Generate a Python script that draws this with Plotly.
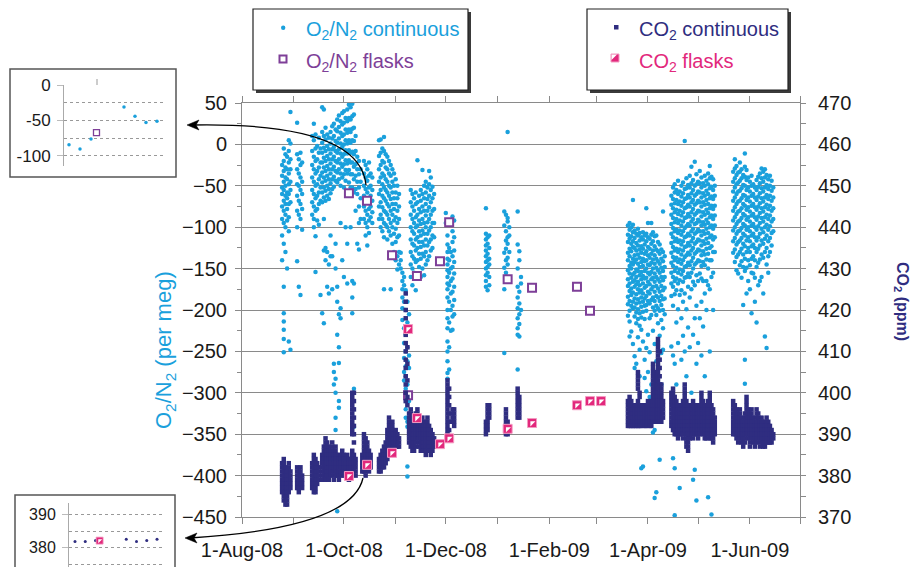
import pandas as pd
import plotly.graph_objects as go

W, H = 912, 567
START = pd.Timestamp("2008-08-01")

# ---------------- data ----------------
label_ticks = ["2008-08-01", "2008-10-01", "2008-12-01", "2009-02-01", "2009-04-01", "2009-06-01"]
label_text = ["1-Aug-08", "1-Oct-08", "1-Dec-08", "1-Feb-09", "1-Apr-09", "1-Jun-09"]
month_ticks = ["2008-08-01", "2008-09-01", "2008-10-01", "2008-11-01", "2008-12-01",
               "2009-01-01", "2009-02-01", "2009-03-01", "2009-04-01", "2009-05-01",
               "2009-06-01", "2009-07-01"]

# days after 1-Aug-2008
o2_flask_day = [64, 74.8, 89.8, 99.4, 104.7, 118.5, 124, 159, 173.6, 200.5, 208.3]
o2_flask_val = [-59, -68, -134, -303, -159, -141, -94, -163, -173, -172, -201]
co2_flask_day = [64, 74.8, 89.8, 99.4, 104.7, 118.5, 124, 159, 173.6, 200.5, 208.3, 214.9]
co2_flask_val = [379.9, 382.6, 385.5, 415.4, 393.9, 387.6, 389.0, 391.3, 392.7, 397.0, 398.0, 398.0]

# O2/N2 continuous (per meg): "day:values"
o2_aug_oct = [
    "24:-25,-38,-52,-60,-75,-90,-110,-140",
    "25:-5,-20,-32,-45,-55,-68,-80,-95,-120,-172,-204,-214,-224,-235,-251",
    "26:-12,-28,-40,-50,-62,-72,-85,-100,-130",
    "27:-15,-30,-42,-58,-65,-78,-92,-150",
    "28:5,-8,-22,-35,-48,-60,-72,-88,-105,-238",
    "29:39,1,-18,-30,-45,-55,-70,-248",
    "33:26,-12,-30,-48,-62,-80,-100,-141",
    "34:-18,-35,-50,-68,-85,-172",
    "35:-10,-25,-40,-55,-72,-90,-182",
    "36:-22,-45,-60,-78,-103",
    "42:10,-8,-25,-40,-55,-70,-85",
    "43:25,5,-15,-30,-45,-60,-75,-90,-100",
    "44:12,-5,-20,-35,-50,-65,-80,-111,-154",
    "45:-2,-18,-32,-48,-62,-78,-92",
    "46:8,-10,-28,-42,-58,-72,-97",
    "47:-5,-22,-38,-52,-68,-182",
    "48:45,15,2,-10,-22,-34,-46,-58,-70,-204",
    "49:42,10,-4,-16,-28,-40,-52,-64,-90,-128,-216",
    "50:20,6,-8,-20,-32,-44,-56,-68,-125,-140",
    "51:12,-2,-14,-26,-38,-50,-62,-130,-172",
    "52:8,-6,-18,-30,-42,-54,-66,-145,-180",
    "53:15,1,-11,-23,-35,-47,-59,-110,-135",
    "54:22,7,-6,-18,-30,-42,-54,-135,-175",
    "55:25,10,-3,-15,-27,-39,-51,-265,-275,-290",
    "56:18,4,-8,-20,-32,-44,-120,-150,-283,-300,-330,-345",
    "57:30,16,2,-10,-22,-34,-46,-172,-190,-230,-443",
    "58:35,21,7,-6,-18,-30,-42,-205,-245,-264,-310,-318",
    "59:28,14,1,-11,-23,-35,-50,-95,-198,-210",
    "60:38,24,10,-3,-15,-27,-40,-140",
    "61:40,26,12,0,-12,-24,-36,-52,-160",
    "62:32,18,5,-7,-19,-31,-44,-100",
    "63:42,28,14,1,-11,-23,-35,-120,-168",
    "64:48,32,18,5,-7,-19,-31,-46",
    "65:45,30,15,2,-10,-22,-36,-52,-100",
    "66:49,34,19,5,-9,-22,-36,-52,-165,-185,-204",
    "67:36,20,4,-12,-27,-42,-58,-168,-295,-341",
    "68:10,-8,-24,-38,-54,-80",
    "69:-15,-30,-45,-60,-120",
    "70:-20,-36,-52,-75,-95,-127",
    "71:-30,-45,-65,-90",
    "73:-20,-35,-50,-62,-75,-90",
    "74:-25,-40,-54,-67,-80,-95,-110",
    "75:-30,-44,-58,-70,-85,-100,-122",
    "76:-22,-38,-52,-65,-78,-92,-107",
    "77:-35,-50,-62,-75,-88",
    "78:-40,-55,-68,-82,-95",
    "82:5,-14,-30,-45,-60,-75,-90",
    "83:6,-10,-25,-40,-55,-70,-85,-100",
    "84:-5,-20,-35,-48,-62,-76,-90,-105",
    "85:9,-8,-22,-38,-52,-65,-80,-95,-112,-175",
    "86:-12,-28,-42,-55,-68,-82,-97",
    "87:-15,-30,-45,-58,-72,-85,-100,-115",
    "88:-20,-35,-50,-62,-75,-90,-105",
    "89:-25,-38,-52,-66,-80,-95,-110,-175",
    "90:-30,-45,-58,-72,-85,-100,-120",
    "91:-35,-50,-65,-78,-92,-108,-130",
    "92:-42,-58,-72,-88,-102,-118,-140",
    "93:-50,-65,-80,-95,-112,-135,-151",
    "94:-60,-75,-90,-110,-130,-145",
    "95:-131,-140,-150",
    "96:-155,-165,-175,-185,-198,-212",
    "97:-160,-170,-190,-222,-240,-258,-275,-285",
    "98:-176,-200,-230,-250,-268,-280,-295,-305,-320,-330",
    "99:-190,-215,-245,-262,-290,-300,-335,-341,-389,-401",
    "100:-205,-225,-255,-270,-310",
]
o2_nov_dec = [
    "101:-55,-70,-85,-100,-115,-130,-145,-160",
    "102:-60,-75,-90,-105,-120,-135,-150,-170",
    "103:-65,-80,-95,-108,-122,-138,-155",
    "104:-58,-72,-88,-100,-115,-128,-142,-176",
    "105:-19,-70,-85,-98,-112,-125,-140,-158",
    "106:-62,-78,-92,-105,-118,-132,-148",
    "107:-55,-68,-82,-96,-110,-124,-138,-160",
    "108:-31,-60,-75,-90,-104,-118,-132,-150",
    "109:-50,-65,-80,-95,-108,-122,-135,-158",
    "110:-45,-58,-72,-86,-100,-115,-130,-145",
    "111:-52,-66,-80,-94,-108,-122,-140",
    "112:-32,-48,-62,-76,-90,-104,-118,-135",
    "113:-40,-55,-70,-85,-100,-115,-128",
    "114:-51,-65,-80,-95,-110,-125",
    "115:-60,-78,-95,-112",
    "122:-83,-95",
    "123:-110,-121,-130,-138,-145,-152,-160,-168,-175,-185,-200,-210,-222,-238,-250,-262,-276,-283",
    "124:-125,-140,-155,-170,-190,-215,-245,-272",
    "125:-130,-150,-165,-180,-200,-225",
    "126:-87,-105,-118,-135,-148,-162,-178,-195,-208,-224",
    "127:-92,-112,-128,-142,-156,-172,-188,-205",
]
o2_winter = [
    "146:-77,-108,-115,-122,-128,-135,-142,-150,-158,-165,-172",
    "147:-112,-120,-132,-140,-148,-155,-176",
    "148:-110,-125,-138,-145,-160,-170",
    "157:-81,-98,-131,-149,-175,-252",
    "158:-85,-105,-116,-126,-140,-155",
    "159:15,-89,-93,-112,-120,-137,-145,-160",
    "160:-100,-110,-130",
    "165:-81,-121,-150,-172,-185,-198,-210,-222,-230,-272",
    "166:-129,-140,-178,-192,-205,-217,-232",
    "167:-160,-168,-200",
]
o2_spring = [
    "231:-98,-109,-118,-131,-140,-152,-163,-171,-184,-193,-207",
    "232:-95,-103,-114,-126,-135,-147,-156,-168,-177,-189,-201,-214,-232",
    "233:-100,-111,-120,-129,-143,-150,-161,-174,-182,-195,-226",
    "234:-67,-97,-106,-117,-124,-138,-145,-157,-166,-179,-190,-198,-241",
    "235:-104,-113,-125,-134,-142,-155,-164,-172,-186,-197,-208,-256,-270",
    "236:-108,-119,-128,-139,-151,-160,-169,-181,-192,-203,-216,-265",
    "237:-102,-110,-122,-133,-144,-153,-166,-175,-187,-199,-211,-233",
    "238:-107,-116,-127,-137,-148,-158,-170,-179,-191,-204,-219,-248,-280",
    "239:-112,-123,-131,-142,-154,-163,-176,-185,-196,-209,-224,-391",
    "240:-106,-115,-126,-138,-147,-159,-168,-180,-190,-202,-238,-389",
    "241:-110,-121,-132,-141,-153,-162,-173,-186,-195,-211,-260,-282",
    "242:-77,-108,-117,-129,-140,-150,-161,-171,-183,-194,-201,-246,-298",
    "243:-95,-112,-124,-134,-145,-155,-166,-178,-189,-230,-275",
    "244:-114,-126,-137,-146,-157,-169,-180,-192,-210,-251,-305",
    "245:-95,-109,-120,-132,-143,-154,-163,-175,-188,-206,-290,-330",
    "246:-106,-117,-128,-139,-150,-161,-172,-185,-197,-225,-348",
    "247:-111,-123,-134,-144,-156,-166,-178,-189,-201,-241,-345,-427",
    "248:-110,-127,-138,-149,-160,-171,-183,-195,-206,-262,-420",
    "249:-118,-129,-141,-152,-163,-174,-185,-198,-216,-271,-315",
    "250:-121,-132,-144,-155,-166,-178,-189,-201,-231,-381",
    "251:-127,-138,-149,-160,-171,-183,-194,-212,-252,-290",
    "252:-81,-130,-141,-153,-164,-176,-187,-200,-222,-248",
    "253:-135,-148,-160,-173,-186,-205",
    "257:-62,-73,-85,-96,-108,-119,-131,-143,-155,-168,-183,-244",
    "258:-52,-66,-77,-89,-101,-112,-124,-136,-147,-160,-172,-195,-255,-379",
    "259:-48,-58,-71,-82,-94,-105,-117,-128,-140,-153,-165,-181,-265,-391,-448",
    "260:-55,-67,-79,-90,-103,-114,-126,-137,-149,-162,-176,-215,-290",
    "261:-44,-60,-72,-84,-95,-107,-118,-130,-142,-155,-168,-199,-240",
    "262:-57,-69,-80,-92,-104,-116,-127,-139,-151,-164,-182,-415",
    "263:-50,-63,-74,-86,-98,-109,-121,-133,-144,-157,-176,-210,-260",
    "264:-46,-59,-70,-82,-93,-105,-117,-128,-140,-153,-166,-190,-231",
    "265:4,-54,-66,-77,-89,-101,-112,-124,-136,-148,-161,-180,-250",
    "266:-41,-53,-65,-76,-88,-99,-111,-123,-134,-147,-160,-199,-280",
    "267:-49,-61,-73,-84,-96,-108,-119,-131,-143,-156,-172,-221",
    "268:-38,-52,-64,-75,-87,-98,-110,-122,-133,-146,-160,-185,-245",
    "269:-27,-47,-59,-70,-82,-93,-105,-117,-128,-141,-155,-175,-300",
    "270:-43,-55,-67,-78,-90,-102,-113,-125,-137,-150,-166,-230,-405",
    "271:-21,-50,-62,-73,-85,-96,-108,-120,-132,-145,-170,-210,-393",
    "272:-36,-48,-60,-71,-83,-95,-106,-118,-130,-143,-158,-195,-265,-430",
    "273:-45,-57,-68,-80,-91,-103,-115,-127,-140,-165,-240",
    "274:-32,-47,-58,-70,-81,-93,-105,-116,-128,-141,-156,-210",
    "275:-40,-52,-64,-75,-87,-98,-110,-122,-134,-147,-162,-190,-255",
    "276:-47,-59,-70,-82,-94,-105,-117,-129,-142,-165,-220",
    "277:-38,-50,-62,-73,-85,-97,-108,-120,-133,-146,-180,-280",
    "278:-44,-56,-67,-79,-91,-102,-114,-126,-139,-165,-200",
    "279:-35,-48,-60,-72,-83,-95,-107,-119,-132,-150,-170,-426",
    "280:-26,-41,-53,-65,-77,-88,-100,-112,-125,-140,-175,-250",
    "281:-39,-51,-63,-74,-86,-98,-110,-123,-140,-160,-447",
    "282:-42,-55,-66,-78,-90,-102,-115,-130,-155,-200",
    "283:-50,-62,-74,-86,-98,-112,-130",
    "294:-33,-45,-57,-68,-80,-92,-104,-117,-131",
    "295:-18,-29,-41,-52,-64,-76,-88,-100,-113,-127,-142",
    "296:-26,-37,-48,-60,-72,-84,-96,-108,-121,-136,-152",
    "297:-34,-46,-57,-69,-81,-93,-105,-118,-133,-156",
    "298:-22,-33,-44,-56,-68,-80,-92,-104,-116,-130,-146",
    "299:-30,-41,-53,-65,-77,-89,-101,-113,-126,-141,-161",
    "300:-37,-49,-61,-72,-84,-96,-108,-120,-133,-148,-194",
    "301:-11,-27,-39,-50,-62,-74,-86,-98,-110,-123,-138,-153,-260,-289",
    "302:-31,-43,-55,-67,-79,-91,-103,-116,-130,-149,-180",
    "303:-40,-52,-64,-76,-88,-100,-112,-125,-140,-165",
    "304:-45,-57,-69,-81,-93,-105,-117,-130,-146,-175",
    "305:-38,-50,-62,-74,-86,-98,-110,-123,-138,-155,-204",
    "306:-48,-60,-72,-84,-96,-108,-121,-135,-156",
    "307:-52,-64,-76,-88,-100,-112,-125,-140,-161,-190",
    "308:-43,-55,-67,-79,-91,-103,-116,-130,-148,-215",
    "309:-39,-51,-63,-75,-87,-99,-112,-126,-143,-170",
    "310:-35,-47,-59,-71,-83,-95,-108,-122,-139,-165",
    "311:-29,-41,-53,-65,-77,-89,-102,-116,-133,-160",
    "312:-33,-45,-57,-69,-81,-93,-106,-120,-137,-180",
    "313:-30,-40,-52,-64,-76,-88,-100,-114,-130,-232",
    "314:-37,-49,-61,-73,-85,-97,-110,-125,-145,-246",
    "315:-42,-54,-66,-78,-90,-103,-117,-135,-155",
    "316:-38,-50,-62,-74,-86,-99,-113,-130",
    "317:-44,-56,-68,-80,-93,-107,-122",
    "318:-52,-64,-77,-90,-105",
]

# CO2 continuous (ppm): "day:values"
co2_aug_oct = [
    "24:383,382,381,380,379,378,377,376",
    "25:384,383,382,381,380,379,378,377,376,375,374",
    "26:382,381,380,379,378,377,376,375,374,373",
    "27:381,380,379,378,377,376,375,374,373",
    "28:383,382,381,380,379,378,377,376",
    "29:381,380,379,378,377",
    "33:382,381,380,379,378,377",
    "34:381,380,379,378,377,376",
    "35:382,381,380,379,378",
    "36:380,379,378,377",
    "42:383,382,381,380,379,378,377",
    "43:385,384,383,382,381,380,379,378,377,376",
    "44:384,383,382,381,380,379,378,377,376",
    "45:383,382,381,380,379,378",
    "46:382,381,380,379",
    "48:385,384,383,382,381,380,379",
    "49:387,386,385,384,383,382,381,380",
    "50:389,388,387,386,385,384,383,382,381,380,379",
    "51:388,387,386,385,384,383,382,381,380",
    "52:387,386,385,384,383,382,381,380,379",
    "53:386,385,384,383,382,381,380",
    "54:388,387,386,385,384,383,382,381",
    "55:386,385,384,383,382,381,380,379",
    "56:387,386,385,384,383,382,381,380",
    "57:385,384,383,382,381,380",
    "58:384,383,382,381,380,379",
    "59:385,384,383,382,381,380",
    "60:386,385,384,383,382,381",
    "61:385,384,383,382,381,380",
    "62:384,383,382,381,380",
    "63:385,384,383,382,381",
    "64:384,383,382,381,380,379",
    "65:384,383,382,381,380",
    "66:386,385,384,383,382,381,400,399,398,397,396,395,394,393,392,391,390",
    "67:385,384,383,382,381,400,398,396,394,392,390,388",
    "68:384,383,382,381,380",
    "72:385,384,383,382,381",
    "73:390,389,388,387,386,385,384,383,382,381",
    "74:389,388,387,386,385,384,383,382,381,380",
    "75:388,387,386,385,384,383,382",
    "76:386,385,384,383,382,381",
    "77:385,384,383,382",
    "82:384,383,382,381",
    "83:385,384,383,382,381",
    "84:386,385,384,383,382",
    "85:387,386,385,384,383,382",
    "86:388,387,386,385,384,383",
    "87:391,390,389,388,387,386,385,384",
    "88:394,393,392,391,390,389,388,387,386",
    "89:392,391,390,389,388,387,386",
    "90:393,392,391,390,389,388,387",
    "91:390,389,388,387",
    "92:391,390,389,388",
    "93:390,389,388,387",
    "94:389,388,387",
    "98:424,422,420,418,416,414,412,410,408,406,404,402,400,398",
    "99:415,411,407,403,399,397",
]
co2_nov_dec = [
    "100:395,394,393,392,391,390,389,388",
    "101:396,395,394,393,392,391,390,389,388,387",
    "102:394,393,392,391,390,389,388,387,386",
    "103:393,392,391,390,389,388,387,386",
    "104:395,394,393,392,391,390,389,388,387",
    "105:396,395,394,393,392,391,390,389",
    "106:394,393,392,391,390,389,388,387",
    "107:393,392,391,390,389,388,387,386",
    "108:394,393,392,391,390,389,388,387,386",
    "109:392,391,390,389,388,387,386",
    "110:393,392,391,390,389,388,387,386,385",
    "111:394,393,392,391,390,389,388,387",
    "112:392,391,390,389,388,387,386",
    "113:391,390,389,388,387,386,385",
    "114:390,389,388,387,386",
    "115:389,388,387",
    "123:403,402,401,400,399,398,397,396,395,394,393,392,391,390",
    "124:401,399,397,395,393,391",
    "126:396,395,394,393",
    "127:396,395,394,393,392",
]
co2_winter = [
    "146:393,392,391,390",
    "147:397,396,395,394,393,392,391",
    "148:397,396,395,394",
    "158:396,395,394,393,392,391,390",
    "159:393,392,391,390",
    "165:401,400,399,398,397,396,395,394",
    "166:399,398,397,396,395,394",
]
co2_spring = [
    "231:398,397,396,395,394,393,392",
    "232:399,398,397,396,395,394,393,392",
    "233:398,397,396,395,394,393,392",
    "234:397,396,395,394,393,392",
    "235:397,396,395,394,393,392",
    "236:396,395,394,393,392",
    "237:398,397,396,395,394,393,392,405,404,403,402,401",
    "238:397,396,395,394,393,392,400,399",
    "239:396,395,394,393,392",
    "240:397,396,395,394,393",
    "241:396,395,394,393,392",
    "242:397,396,395,394,393,392",
    "243:398,397,396,395,394,393",
    "244:396,395,394,393,392",
    "245:398,397,396,395,394,393,392",
    "246:407,406,405,404,403,402,401,400,399,398,397,396,395,394,393",
    "247:404,403,402,401,400,399,398,397,396,395,394,393",
    "248:405,404,403,402,401,400,399,398,397,396,395,394,393",
    "249:413,412,411,410,409,408,407,406,405,404,403,402,401,400,399,398,397,396,395,394,393",
    "250:410,408,406,404,402,400,399,398,397,396,395,394,393",
    "251:402,401,400,399,398,397,396,395,394,393",
    "252:398,397,396,395,394",
    "257:400,399,398,397,396,395,394,393,392",
    "258:401,400,399,398,397,396,395,394,393,392,391",
    "259:399,398,397,396,395,394,393,392,391,390",
    "260:398,397,396,395,394,393,392,391,390",
    "261:397,396,395,394,393,392,391,390,389",
    "262:396,395,394,393,392,391,390",
    "263:397,396,395,394,393,392,391,390",
    "264:398,397,396,395,394,393,392,391,390,389",
    "265:402,401,400,399,398,397,396,395,394,393,392,391",
    "266:398,397,396,395,394,393,392,391,390,389,388,387",
    "267:397,396,395,394,393,392,391,390,389,388,387,386",
    "268:396,395,394,393,392,391,390,389",
    "269:397,396,395,394,393,392,391,390",
    "270:398,397,396,395,394,393,392,391,390,389",
    "271:396,395,394,393,392,391,390",
    "272:397,396,395,394,393,392,391,390",
    "273:396,395,394,393,392,391,390,389",
    "274:397,396,395,394,393,392,391,390",
    "275:400,399,398,397,396,395,394,393,392,391",
    "276:398,397,396,395,394,393,392,391,390",
    "277:397,396,395,394,393,392,391,390,389",
    "278:396,395,394,393,392,391,390,389",
    "279:398,397,396,395,394,393,392,391,390",
    "280:400,399,398,397,396,395,394,393,392,391,390,389",
    "281:397,396,395,394,393,392,391,390,389",
    "282:396,395,394,393,392,391,390,389,388",
    "283:394,393,392,391,390",
    "294:398,397,396,395,394,393,392,391,390",
    "295:397,396,395,394,393,392,391,390",
    "296:396,395,394,393,392,391,390,389",
    "297:395,394,393,392,391,390,389,388",
    "298:396,395,394,393,392,391,390,389",
    "299:394,393,392,391,390,389,388",
    "300:393,392,391,390,389,388,387",
    "301:395,394,393,392,391,390,389,388",
    "302:399,398,397,396,395,394,393,392,391,390",
    "303:396,395,394,393,392,391,390,389",
    "304:395,394,393,392,391,390,389,388,387",
    "305:396,395,394,393,392,391,390,389",
    "306:394,393,392,391,390,389,388",
    "307:393,392,391,390,389,388,387",
    "308:396,395,394,393,392,391,390,389,388",
    "309:395,394,393,392,391,390,389",
    "310:393,392,391,390,389,388,387",
    "311:394,393,392,391,390,389,388",
    "312:393,392,391,390,389,388,387",
    "313:392,391,390,389,388,387",
    "314:394,393,392,391,390,389,388",
    "315:393,392,391,390,389,388",
    "316:392,391,390,389,388",
    "317:391,390,389,388",
    "318:390,389",
]

# insets: hourly values on the flask day (hours)
inset_o2_hour = [1, 2, 3, 6, 7, 8, 9]
inset_o2_val = [-84, -90, -76, -31, -44, -53, -51]
inset_o2_flask_hour = [3.5]
inset_o2_flask_val = [-67]
inset_co2_hour = [1, 2, 3, 6, 7, 8, 9]
inset_co2_val = [381.9, 381.9, 382.2, 382.6, 381.9, 382.2, 382.6]
inset_co2_flask_hour = [3.4]
inset_co2_flask_val = [382.2]

# ---------------- styles ----------------
BLUE = "#1aa0dc"
NAVY = "#2f2d80"
PURPLE = "#7e3f98"
PINK = "#e2287c"
PINK_EDGE = "#f39bc2"
GRID = "#8a8a8a"
FONT = "Liberation Sans, Arial, sans-serif"


def expand(*groups):
    days, vals = [], []
    for rows in groups:
        for row in rows:
            d, s = row.split(":")
            for v in s.split(","):
                days.append(float(d))
                vals.append(float(v))
    return days, vals


def to_dates(days):
    return [START + pd.Timedelta(days=float(d)) for d in days]


def px(x):
    return x / W


def py(y):
    return 1 - y / H


def pt(x, y):
    return f"{px(x):.5f},{py(y):.5f}"


o2_d, o2_v = expand(o2_aug_oct, o2_nov_dec, o2_winter, o2_spring)
co2_d, co2_v = expand(co2_aug_oct, co2_nov_dec, co2_winter, co2_spring)

fig = go.Figure()
fig.add_trace(go.Scatter(x=to_dates(o2_d), y=o2_v, mode="markers", xaxis="x", yaxis="y",
                         marker=dict(symbol="circle", size=4.5, color=BLUE, line=dict(width=0)),
                         hoverinfo="skip"))
fig.add_trace(go.Scatter(x=to_dates(co2_d), y=co2_v, mode="markers", xaxis="x", yaxis="y2",
                         marker=dict(symbol="square", size=4.5, color=NAVY, line=dict(width=0)),
                         hoverinfo="skip"))
fig.add_trace(go.Scatter(x=to_dates(o2_flask_day), y=o2_flask_val, mode="markers", xaxis="x", yaxis="y",
                         marker=dict(symbol="square", size=8, color="white", line=dict(width=2, color=PURPLE))))
fig.add_trace(go.Scatter(x=to_dates(co2_flask_day), y=co2_flask_val, mode="markers", xaxis="x", yaxis="y2",
                         marker=dict(symbol="square", size=9, color=PINK, line=dict(width=1, color=PINK_EDGE))))
fig.add_trace(go.Scatter(x=to_dates(co2_flask_day), y=co2_flask_val, mode="markers", xaxis="x", yaxis="y2",
                         marker=dict(symbol="triangle-nw", size=5.6, color="white", line=dict(width=0))))

# inset 1 (O2)
fig.add_trace(go.Scatter(x=inset_o2_hour, y=inset_o2_val, mode="markers", xaxis="x3", yaxis="y3",
                         marker=dict(size=3.5, color=BLUE)))
fig.add_trace(go.Scatter(x=inset_o2_flask_hour, y=inset_o2_flask_val, mode="markers", xaxis="x3", yaxis="y3",
                         marker=dict(symbol="square", size=6, color="white", line=dict(width=1.3, color=PURPLE))))
# inset 2 (CO2)
fig.add_trace(go.Scatter(x=inset_co2_hour, y=inset_co2_val, mode="markers", xaxis="x4", yaxis="y4",
                         marker=dict(size=3, color=NAVY)))
fig.add_trace(go.Scatter(x=inset_co2_flask_hour, y=inset_co2_flask_val, mode="markers", xaxis="x4", yaxis="y4",
                         marker=dict(symbol="square", size=7, color=PINK, line=dict(width=0.8, color=PINK_EDGE))))
fig.add_trace(go.Scatter(x=inset_co2_flask_hour, y=inset_co2_flask_val, mode="markers", xaxis="x4", yaxis="y4",
                         marker=dict(symbol="triangle-nw", size=4.4, color="white", line=dict(width=0))))

tickfont = dict(family=FONT, size=20, color="#1a1a1a")

layout = dict(
    width=W, height=H, margin=dict(l=0, r=0, t=0, b=0, autoexpand=False),
    paper_bgcolor="white", plot_bgcolor="white", showlegend=False,
    font=dict(family=FONT, color="#1a1a1a"),
    xaxis=dict(domain=[px(242), px(800)], anchor="y", type="date", automargin=False,
               range=["2008-08-01", "2009-07-01"], tickvals=label_ticks, ticktext=label_text,
               ticks="outside", ticklen=6, tickcolor=GRID,
               minor=dict(tickvals=month_ticks, ticks="outside", ticklen=6, tickcolor=GRID, showgrid=False),
               showline=True, linecolor=GRID, linewidth=1,
               mirror="ticks", showgrid=False, zeroline=False, tickfont=tickfont,
               ticklabelstandoff=9),
    yaxis=dict(domain=[py(517), py(103)], anchor="x", range=[-450, 50], dtick=50, automargin=False,
               showgrid=True, gridcolor=GRID, gridwidth=1, zeroline=False,
               showline=True, linecolor=GRID, linewidth=1, ticks="outside", ticklen=6, tickcolor=GRID,
               minor=dict(dtick=25, ticks="outside", ticklen=4, tickcolor=GRID, showgrid=False),
               tickfont=tickfont, ticklabelstandoff=4),
    yaxis2=dict(overlaying="y", anchor="x", side="right", range=[370, 470], dtick=10, automargin=False,
                showgrid=False, zeroline=False, showline=True, linecolor=GRID, linewidth=1,
                ticks="outside", ticklen=5, tickcolor=GRID,
                minor=dict(dtick=5, ticks="outside", ticklen=5, tickcolor=GRID),
                tickfont=tickfont, ticklabelstandoff=8),
    xaxis3=dict(domain=[px(64), px(165)], anchor="y3", range=[0.545, 9.73], visible=False,
                automargin=False),
    yaxis3=dict(domain=[py(166), py(85)], anchor="x3", range=[-114.1, 0], automargin=False,
                tickvals=[0, -50, -100], ticktext=["0", "-50", "-100"],
                showgrid=True, gridcolor="#999", griddash="dot", gridwidth=1, zeroline=False,
                minor=dict(tickvals=[-25, -75], showgrid=True, gridcolor="#999", griddash="dot", ticks=""),
                showline=True, linecolor="#aaa", ticks="outside", ticklen=6, tickcolor="#bbb",
                tickfont=dict(family=FONT, size=17, color="#1a1a1a"), ticklabelstandoff=3),
    xaxis4=dict(domain=[px(69), px(165)], anchor="y4", range=[0.415, 9.78], visible=False,
                automargin=False),
    yaxis4=dict(domain=[0, py(503)], anchor="x4", range=[374.2, 393.6], automargin=False,
                tickvals=[380, 390], ticktext=["380", "390"],
                showgrid=True, gridcolor="#999", griddash="dot", gridwidth=1, zeroline=False,
                minor=dict(tickvals=[375, 385], showgrid=True, gridcolor="#999", griddash="dot", ticks=""),
                showline=True, linecolor="#aaa", ticks="outside", ticklen=6, tickcolor="#bbb",
                tickfont=dict(family=FONT, size=16, color="#1a1a1a"), ticklabelstandoff=3),
)
fig.update_layout(**layout)

shapes = []


def rect(x0, y0, x1, y1, **kw):
    d = dict(type="rect", xref="paper", yref="paper", x0=px(x0), x1=px(x1), y0=py(y1), y1=py(y0))
    d.update(kw)
    shapes.append(d)


def path(p, **kw):
    d = dict(type="path", xref="paper", yref="paper", path=p)
    d.update(kw)
    shapes.append(d)


# legend boxes with shadow
rect(256, 12, 471, 93, fillcolor="#3a3a3a", line=dict(width=0))
rect(253, 9, 468, 90, fillcolor="white", line=dict(color="#222", width=1.2))
rect(590, 12, 791, 93, fillcolor="#3a3a3a", line=dict(width=0))
rect(587, 9, 788, 90, fillcolor="white", line=dict(color="#222", width=1.2))
# legend symbols
shapes.append(dict(type="circle", xref="paper", yref="paper", x0=px(281), x1=px(285.4), y0=py(30), y1=py(25.6),
                   fillcolor=BLUE, line=dict(width=0)))
rect(279.5, 55.5, 286.5, 62.5, fillcolor="white", line=dict(color=PURPLE, width=2))
rect(614, 25, 618.5, 29.5, fillcolor=NAVY, line=dict(width=0))
rect(611, 54, 619, 62, fillcolor=PINK, line=dict(color=PINK_EDGE, width=1))
path(f"M{pt(611.5, 54.5)} L{pt(617, 54.5)} L{pt(611.5, 60)} Z", fillcolor="white", line=dict(width=0))

# inset frames
rect(10, 69, 176, 177, line=dict(color="#555", width=1.5))
rect(15, 495, 175, 570, line=dict(color="#555", width=1.5))
shapes.append(dict(type="line", xref="paper", yref="paper", x0=px(97), x1=px(97), y0=py(79), y1=py(85),
                   line=dict(color="#999", width=1)))

# arrows
path(f"M{pt(366, 185)} Q{pt(360, 122)} {pt(192, 125)}", line=dict(color="black", width=1.3))
path(f"M{pt(187, 125)} L{pt(199, 120)} L{pt(196, 125)} L{pt(199, 130)} Z", fillcolor="black",
     line=dict(color="black", width=0.5))
path(f"M{pt(363, 478)} Q{pt(352, 528)} {pt(190, 538)}", line=dict(color="black", width=1.3))
path(f"M{pt(185, 538)} L{pt(197, 533)} L{pt(194, 538)} L{pt(197, 543)} Z", fillcolor="black",
     line=dict(color="black", width=0.5))

fig.update_layout(shapes=shapes)

ann = []


def text(x, y, t, color, size=20, **kw):
    d = dict(xref="paper", yref="paper", x=px(x), y=py(y), text=t, showarrow=False,
             font=dict(family=FONT, size=size, color=color), xanchor="left", yanchor="middle")
    d.update(kw)
    ann.append(d)


text(304, 30, "O<sub>2</sub>/N<sub>2</sub> continuous", BLUE)
text(304, 62, "O<sub>2</sub>/N<sub>2</sub> flasks", PURPLE)
text(637, 30, "CO<sub>2</sub> continuous", NAVY)
text(637, 62, "CO<sub>2</sub> flasks", PINK)
text(165, 350, "O<sub>2</sub>/N<sub>2</sub> (per meg)", BLUE, size=22, xanchor="center", textangle=-90)
text(902, 301, "<b>CO<sub>2</sub> (ppm)</b>", NAVY, size=16, xanchor="center", textangle=90)
fig.update_layout(annotations=ann)

fig.write_html("out.html")
